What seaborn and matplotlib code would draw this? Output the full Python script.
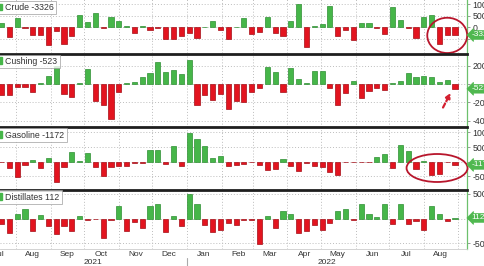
import numpy as np
import pandas as pd
import matplotlib
matplotlib.use("Agg")
import matplotlib.pyplot as plt
import matplotlib.transforms as mtransforms
from matplotlib.patches import Patch, Ellipse, FancyArrowPatch
import seaborn as sns

# ---------------- data (weekly changes, thousand barrels) ----------------
bar_dates = pd.date_range("2021-07-19", periods=59, freq="7D")

crude = [1900, -4350, 3900, -400, -3500, -3500, -7700, -1700, -7000, -3600,
         5100, 2300, 6200, -400, 4400, 2900, 700, -2300, 600, -1200,
         -200, -5100, -5100, -3900, -2500, -4800, 300, 2500, -1200, -5100,
         300, 4000, -2900, -2200, 4600, -2600, -3600, 2500, 9900, -8700,
         500, 1200, 9000, -3600, -1200, -5400, 1900, 1900, -300, -2900,
         8700, 3300, -300, -4600, 4500, 5500, -7100, -3300, -3326]
cushing = [-1220, -1180, -370, -300, -920, 70, 920, 2000, -1040, -1400,
           150, 1630, -1890, -2260, -3810, -850, 70, 200, 810, 1180,
           2370, 1300, 1480, 1110, 2590, -2330, -1150, -1780, -1110, -2700,
           -1850, -1960, -890, -480, 1850, 1260, -920, 1740, 520, 60,
           1370, 1440, -480, -2330, -960, 330, -1480, -780, -480, -670,
           100, 330, 1180, 810, 920, 740, 260, 440, -523]
gasoline = [-300, -2200, -5200, -1150, 580, -2200, 1150, -6900, -1950, 3200,
            200, 3000, -1950, -5000, -1950, -1400, -1400, -500, -500, 3800,
            3800, -800, 5300, -1400, 9900, 7800, 5500, 1150, 1800, -1600,
            -1150, -700, -300, -1150, -3100, -2500, 800, -1700, -3200, -400,
            -1400, -2000, -3450, -4600, -300, -300, -300, -300, 1500, 2650,
            -2100, 5750, 3700, -2600, 200, -4600, -4250, -100, -1172]
distillates = [-1220, -3000, 950, 1970, -2600, 800, -1630, -3130, -1560, -2450,
               480, -270, -100, -3940, -270, 2450, -2450, -750, -1970, 2450,
               3000, -2800, 480, -1560, 4900, 2860, -1300, -2800, -2250, -880,
               -1300, -400, -400, -5300, 480, -1970, 1630, 950, -2920, -2580,
               -1300, -2250, -880, 1430, 1970, -400, 3000, 950, 400, 2860,
               -1160, 3000, -1160, -610, -2310, 2450, 950, -540, 112]

series_names = ["Crude", "Cushing", "Gasoline", "Distillates"]
series_values = [crude, cushing, gasoline, distillates]
ytick_values = [[10000, 5000, 0, -5000],
                [2000, 0, -2000, -4000],
                [10000, 5000, 0, -5000],
                [5000, 0, -5000]]
month_labels = ["Jul", "Aug", "Sep", "Oct", "Nov", "Dec", "Jan",
                "Feb", "Mar", "Apr", "May", "Jun", "Jul", "Aug"]
year_labels = ["2021", "2022"]

# ---------------- style ----------------
GREEN = "#46b649"
GREEN_EDGE = "#2f8f33"
RED = "#e3141f"
RED_EDGE = "#a50d16"
TAG_GREEN = "#4fb84f"
GRID = "#bdbdbd"
TXT = "#333333"

sns.set_theme(style="white")
plt.rcParams["font.family"] = ["Liberation Sans", "DejaVu Sans"]
plt.rcParams["axes.unicode_minus"] = False

W, H = 485, 266
fig = plt.figure(figsize=(W / 100, H / 100), dpi=100)

# panel pixel extents (top, bottom) and y-limits
panel_px = [(-3, 52.5), (53.5, 126.5), (127.5, 188.5), (189.5, 249)]
panel_ylim = [(-10870, 13040), (-4645, 3333), (-9310, 11724), (-6224, 5918)]
AX_RIGHT = 467

def pos(d):
    return (pd.Timestamp(d) - bar_dates[0]).days / 7.0

xlim = (-0.19, 59.53)
month_starts = pd.date_range("2021-07-01", "2022-09-01", freq="MS")
month_mids = [pos(d + pd.Timedelta(days=15)) for d in month_starts[:len(month_labels)]]
jan1 = pos("2022-01-01")

axes = []
for k, (name, vals) in enumerate(zip(series_names, series_values)):
    top, bot = panel_px[k]
    hpx = bot - top
    ax = fig.add_axes([0, 1 - bot / H, AX_RIGHT / W, hpx / H])
    axes.append(ax)
    df = pd.DataFrame({"x": np.arange(len(vals)), "v": vals})
    df["sign"] = np.where(df["v"] >= 0, "up", "down")
    sns.barplot(data=df, x="x", y="v", hue="sign", palette={"up": GREEN, "down": RED},
                dodge=False, width=0.66, saturation=1, legend=False,
                native_scale=True, ax=ax, zorder=3)
    for p in ax.patches:
        fc = p.get_facecolor()
        is_green = fc[1] > fc[0]
        p.set_edgecolor(GREEN_EDGE if is_green else RED_EDGE)
        p.set_linewidth(0.5)

    ax.set_xlabel("")
    ax.set_ylabel("")

    # grid positions (month starts) -- set before limits
    ax.set_xticks([pos(d) for d in month_starts])
    ax.set_xlim(*xlim)
    ylo, yhi = panel_ylim[k]
    ax.set_ylim(ylo, yhi)

    # right-hand axis; hide labels sitting under the last-value tag
    ppu = hpx / (yhi - ylo)
    ticks = ytick_values[k]
    labels = ["" if abs(t - vals[-1]) * ppu < 6.5 and t != ticks[0] else str(t)
              for t in ticks]
    ax.yaxis.tick_right()
    ax.set_yticks(ticks)
    ax.set_yticklabels(labels)
    ax.tick_params(axis="y", length=2.5, width=0.6, color="#888888", pad=1.5,
                   labelsize=6.3, labelcolor=TXT)

    ax.grid(True, axis="both", which="major", linestyle=(0, (1, 2)),
            color=GRID, linewidth=0.7, zorder=0)
    ax.set_axisbelow(True)

    # spines
    ax.spines["left"].set_visible(False)
    ax.spines["right"].set_color("#6cc06c")
    ax.spines["right"].set_linewidth(0.9)
    if k == 0:
        ax.spines["top"].set_visible(False)
    else:
        ax.spines["top"].set_color("#1e1e1e")
        ax.spines["top"].set_linewidth(2.0)
    if k < 3:
        ax.spines["bottom"].set_visible(False)
        ax.tick_params(axis="x", length=0, labelbottom=False)
    else:
        ax.spines["bottom"].set_color("#cccccc")
        ax.spines["bottom"].set_linewidth(0.6)

    # legend box
    leg = ax.legend(handles=[Patch(facecolor=GREEN, edgecolor=GREEN)],
                    labels=[f"{name} {vals[-1]}"],
                    loc="upper left", bbox_to_anchor=(-0.012, 0.985 if k else 0.93),
                    borderaxespad=0.0, frameon=True, fancybox=False,
                    edgecolor="#9a9a9a", fontsize=6.3, handlelength=0.6,
                    handleheight=0.8, handletextpad=0.4, borderpad=0.25)
    leg.get_frame().set_linewidth(0.6)
    for t in leg.get_texts():
        t.set_color(TXT)
    leg.set_zorder(10)

    # last-value tag
    tr = mtransforms.blended_transform_factory(ax.transAxes, ax.transData)
    ax.text(1 + 4.5 / AX_RIGHT, vals[-1], str(vals[-1]), transform=tr,
            ha="left", va="center", fontsize=6.0, color="white",
            bbox=dict(boxstyle="larrow,pad=0.1", fc=TAG_GREEN, ec=TAG_GREEN, lw=0.5),
            clip_on=False, zorder=20)

# bottom axis: month labels and years
axb = axes[-1]
trb = mtransforms.blended_transform_factory(axb.transData, axb.transAxes)
inside = [(p, lab) for p, lab in zip(month_mids, month_labels) if xlim[0] <= p <= xlim[1]]
outside = [(p, lab) for p, lab in zip(month_mids, month_labels) if not (xlim[0] <= p <= xlim[1])]
axb.set_xticks([p for p, _ in inside], minor=True)
axb.set_xticklabels([lab for _, lab in inside], minor=True)
axb.set_xlim(*xlim)
axb.tick_params(axis="x", which="minor", length=0, pad=1.8, labelsize=6.0,
                labelcolor=TXT)
axb.tick_params(axis="x", which="major", length=0, labelbottom=False)
for p, lab in outside:
    axb.text(p + 0.2, -0.03, lab, transform=trb, ha="center", va="top",
             fontsize=6.0, color=TXT, clip_on=False)

axb.text((xlim[0] + jan1) / 2, -0.165, year_labels[0], transform=trb,
         ha="center", va="top", fontsize=6.0, color=TXT)
axb.text((jan1 + xlim[1]) / 2, -0.165, year_labels[1], transform=trb,
         ha="center", va="top", fontsize=6.0, color=TXT)
axb.plot([jan1, jan1], [-0.15, -0.30], transform=trb, color="#aaaaaa",
         lw=0.8, clip_on=False)

# annotations (red hand-drawn style markers)
ANN = "#b8162c"
axes[0].add_patch(Ellipse((57.0, -3500), width=5.1, height=15200, fill=False,
                          ec=ANN, lw=1.3, zorder=15, clip_on=False))
axes[2].add_patch(Ellipse((55.7, -2240), width=7.8, height=9650, fill=False,
                          ec=ANN, lw=1.3, zorder=15, clip_on=False))
axes[1].add_patch(FancyArrowPatch((56.3, -2840), (57.6, -700),
                                  arrowstyle="-|>", mutation_scale=7,
                                  color="#d42030", lw=1.6, linestyle=(0, (2, 1.2)),
                                  zorder=15))

fig.savefig("out.png", dpi=100)
